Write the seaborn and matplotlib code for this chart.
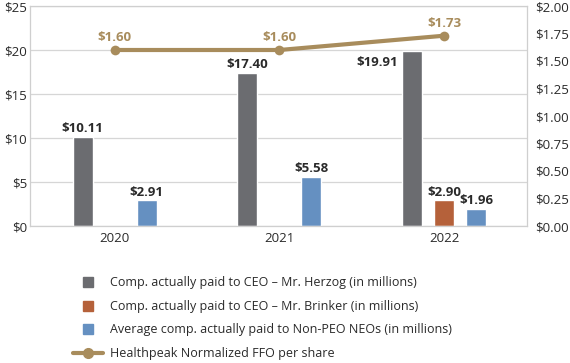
import numpy as np
import pandas as pd
import matplotlib
matplotlib.use("Agg")
import matplotlib.pyplot as plt
from matplotlib.lines import Line2D
import seaborn as sns

# ── data ─────────────────────────────────────
years = ["2020", "2021", "2022"]
herzog = [10.11, 17.40, 19.91]
brinker = [np.nan, np.nan, 2.90]
non_peo = [2.91, 5.58, 1.96]
ffo = [1.60, 1.60, 1.73]

series = [
    "Comp. actually paid to CEO – Mr. Herzog (in millions)",
    "Comp. actually paid to CEO – Mr. Brinker (in millions)",
    "Average comp. actually paid to Non-PEO NEOs (in millions)",
]
line_name = "Healthpeak Normalized FFO per share"

GRAY, ORANGE, BLUE, GOLD = "#6b6c70", "#b5613a", "#6590c1", "#a88c5c"
TXT = "#2a2a2a"

df = pd.DataFrame({
    "year": years * 3,
    "series": [s for s in series for _ in years],
    "value": herzog + brinker + non_peo,
})
df_line = pd.DataFrame({"year": years, "ffo": ffo})

sns.set_theme(style="white")
plt.rcParams["font.family"] = ["Open Sans", "DejaVu Sans"]

fig = plt.figure(figsize=(5.7, 3.63), dpi=100)
ax = fig.add_axes([30 / 570, 1 - 226 / 363, 497 / 570, 220 / 363])

sns.barplot(data=df, x="year", y="value", hue="series", hue_order=series,
            palette=[GRAY, ORANGE, BLUE], width=0.583, gap=0.375,
            saturation=1, legend=False, ax=ax)
ax.set_ylim(0, 25)
ax.set_yticks(range(0, 26, 5))
ax.set_yticklabels([f"${v}" for v in range(0, 26, 5)])
ax.set_xlim(-0.515, 2.503)
ax.set_xlabel("")
ax.set_ylabel("")
ax.yaxis.grid(True, color="#d6d6d6", lw=0.9)
ax.set_axisbelow(True)
for sp in ax.spines.values():
    sp.set_color("#cfcfcf")
    sp.set_linewidth(0.9)
ax.tick_params(axis="both", length=0, labelsize=9.5, labelcolor=TXT, pad=4)
ax.tick_params(axis="y", pad=2)

# bar value labels
for cont in ax.containers:
    for p in cont.patches:
        h = p.get_height()
        if np.isnan(h) or h <= 0:
            continue
        cx = p.get_x() + p.get_width() / 2
        if h > 19:
            ax.text(p.get_x() - 0.025, h - 1.3, f"${h:.2f}", ha="right", va="center",
                    fontsize=9.5, fontweight="bold", color=TXT)
        else:
            ax.text(cx, h + 0.2, f"${h:.2f}", ha="center", va="bottom",
                    fontsize=9.5, fontweight="bold", color=TXT)

# FFO line on right axis
ax2 = ax.twinx()
sns.lineplot(data=df_line, x="year", y="ffo", color=GOLD, lw=3, marker="o",
             markersize=7, markeredgewidth=0, sort=False, ax=ax2)
ax2.set_ylim(0, 2.0)
ax2.set_yticks(np.arange(0, 2.01, 0.25))
ax2.set_yticklabels([f"${v:.2f}" for v in np.arange(0, 2.01, 0.25)])
ax2.set_ylabel("")
ax2.tick_params(axis="y", length=0, labelsize=9.5, labelcolor=TXT, pad=6)
for sp in ax2.spines.values():
    sp.set_visible(False)
for i, v in enumerate(ffo):
    ax2.text(i, v + 0.055, f"${v:.2f}", ha="center", va="bottom",
             fontsize=9.5, fontweight="bold", color=GOLD)

# legend below
handles = [Line2D([], [], ls="none", marker="s", markersize=7, color=c)
           for c in (GRAY, ORANGE, BLUE)]
handles.append(Line2D([], [], color=GOLD, lw=3, marker="o", markersize=7))
fig.legend(handles, series + [line_name], loc="upper left",
           bbox_to_anchor=(62 / 570, 1 - 265 / 363), frameon=False,
           fontsize=9, labelspacing=0.85, handlelength=2.4, handletextpad=0.5,
           labelcolor=TXT)

plt.savefig("out.png", dpi=100)
